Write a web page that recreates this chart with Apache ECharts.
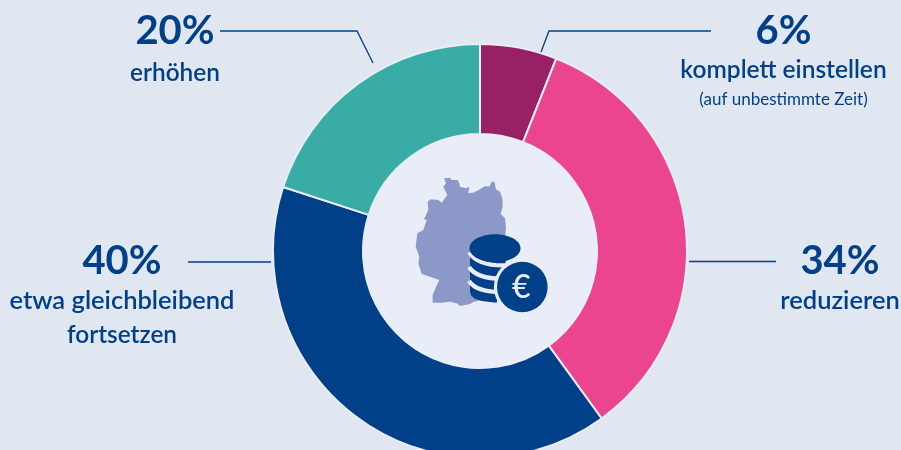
<!DOCTYPE html>
<html><head><meta charset="utf-8">
<style>html,body{margin:0;padding:0;background:#e1e7f0}#c{width:901px;height:450px}</style>
<script src="https://cdn.jsdelivr.net/npm/echarts@6/dist/echarts.min.js"></script>
</head><body><div id="c"></div>
<script>
const categories = ['komplett einstellen', 'reduzieren', 'etwa gleichbleibend\nfortsetzen', 'erhöhen'];
const values = [6, 34, 40, 20];
const notes = ['(auf unbestimmte Zeit)', '', '', ''];
const colors = ['#982064', '#ec458f', '#004089', '#39aca6'];
const labelAnchors = [[783.5, 8, 39, 30], [840, 238, 40, 0], [122, 238, 40, 34], [175, 8, 42, 0]];
const leaders = [
  [[711, 31], [549, 31], [541, 52]],
  [[689, 261.5], [776, 261.5]],
  [[188, 262], [271, 262]],
  [[220, 31], [357, 31], [373, 63]]
];
const germany = [[252,145],[270,143],[275,150],[293,150],[298,160],[300,170],[318,175],[328,170],[325,190],[340,188],[360,178],[375,168],[388,170],[395,155],[403,155],[408,178],[420,185],[427,205],[428,230],[422,252],[435,265],[438,295],[435,320],[420,400],[400,500],[340,516],[330,522],[300,528],[290,520],[270,515],[245,518],[218,518],[218,495],[228,470],[238,450],[210,440],[185,432],[175,400],[178,380],[167,350],[172,310],[190,300],[200,270],[192,268],[205,240],[203,215],[212,208],[235,210],[245,218],[262,195],[250,170],[258,160]];
const coinBody = [[330,355],[330,485],[334,497],[345,506],[365,513],[410,518],[440,380]];

const NAVY = '#004089', PALE = '#e9edf8';
const zx = v => 360 + v / 3, zy = v => 130 + v / 3;
const toPx = pts => pts.map(p => [zx(p[0]), zy(p[1])]);

function stripe(y0, y1) {
  return { type: 'bezierCurve', z: 12, silent: true,
    shape: { x1: zx(327), y1: zy(y0), cpx1: zx(345), cpy1: zy(y0 + 28), cpx2: zx(385), cpy2: zy(y1), x2: zx(440), y2: zy(y1 - 2) },
    style: { stroke: PALE, lineWidth: 4.2, fill: null } };
}
const lineGraphics = leaders.map(pts => ({ type: 'polyline', z: 5, silent: true,
  shape: { points: pts }, style: { stroke: NAVY, lineWidth: 1.3, fill: null } }));

const option = {
  backgroundColor: '#e1e7f0',
  animation: false,
  graphic: [
    { type: 'circle', z: 1, silent: true, shape: { cx: 480, cy: 251, r: 117 }, style: { fill: PALE } },
    { type: 'polygon', z: 10, silent: true, shape: { points: toPx(germany) }, style: { fill: '#8c99c8' } },
    { type: 'polygon', z: 11, silent: true, shape: { points: toPx(coinBody) }, style: { fill: NAVY } },
    stripe(367, 408), stripe(411, 448), stripe(453, 488),
    { type: 'ellipse', z: 13, silent: true, shape: { cx: zx(405), cy: zy(355), rx: 25.5, ry: 14 }, style: { fill: NAVY } },
    { type: 'circle', z: 14, silent: true, shape: { cx: zx(487), cy: zy(471), r: 28.5 }, style: { fill: PALE } },
    { type: 'circle', z: 15, silent: true, shape: { cx: zx(487), cy: zy(471), r: 25.3 }, style: { fill: NAVY } },
    { type: 'text', z: 16, silent: true, style: { text: '€', x: zx(484), y: zy(472), fill: PALE, font: '500 32px Lato', align: 'center', verticalAlign: 'middle' } },
    ...lineGraphics
  ],
  series: [{
    type: 'pie',
    center: [480, 251],
    radius: [117, 207],
    startAngle: 90,
    clockwise: true,
    silent: true,
    itemStyle: { borderColor: PALE, borderWidth: 2 },
    labelLine: { show: false },
    label: {
      show: true,
      position: 'outside',
      color: NAVY,
      fontFamily: 'Lato',
      formatter: p => {
        const i = p.dataIndex;
        const first = i === 0 ? 'a' : i === 3 ? 'c' : 'b';
        const lines = categories[i].split('\n').map((t, k) => `{${k ? 'd' : first}|${t}}`);
        if (notes[i]) lines.push(`{s|${notes[i]}}`);
        return [`{p|${values[i]}%}`, ...lines].join('\n');
      },
      rich: {
        p: { fontFamily: 'Lato', fontSize: 40, fontWeight: 700, lineHeight: 46, color: NAVY, align: 'center' },
        a: { fontFamily: 'Lato', fontSize: 24.5, fontWeight: 600, lineHeight: 32, color: NAVY, align: 'center' },
        b: { fontFamily: 'Lato', fontSize: 25.5, fontWeight: 600, lineHeight: 34, color: NAVY, align: 'center' },
        c: { fontFamily: 'Lato', fontSize: 24.4, fontWeight: 600, lineHeight: 38, color: NAVY, align: 'center' },
        d: { fontFamily: 'Lato', fontSize: 24.4, fontWeight: 600, lineHeight: 34, color: NAVY, align: 'center' },
        s: { fontFamily: 'Lato', fontSize: 17, fontWeight: 400, lineHeight: 28, color: NAVY, align: 'center' }
      }
    },
    labelLayout: p => {
      const a = labelAnchors[p.dataIndex];
      return { x: a[0], y: a[1], align: 'center', verticalAlign: 'top' };
    },
    data: categories.map((name, i) => ({ name, value: values[i], itemStyle: { color: colors[i] } }))
  }]
};
const chart = echarts.init(document.getElementById('c'), null, { renderer: 'canvas' });
chart.setOption(option);
</script></body></html>
